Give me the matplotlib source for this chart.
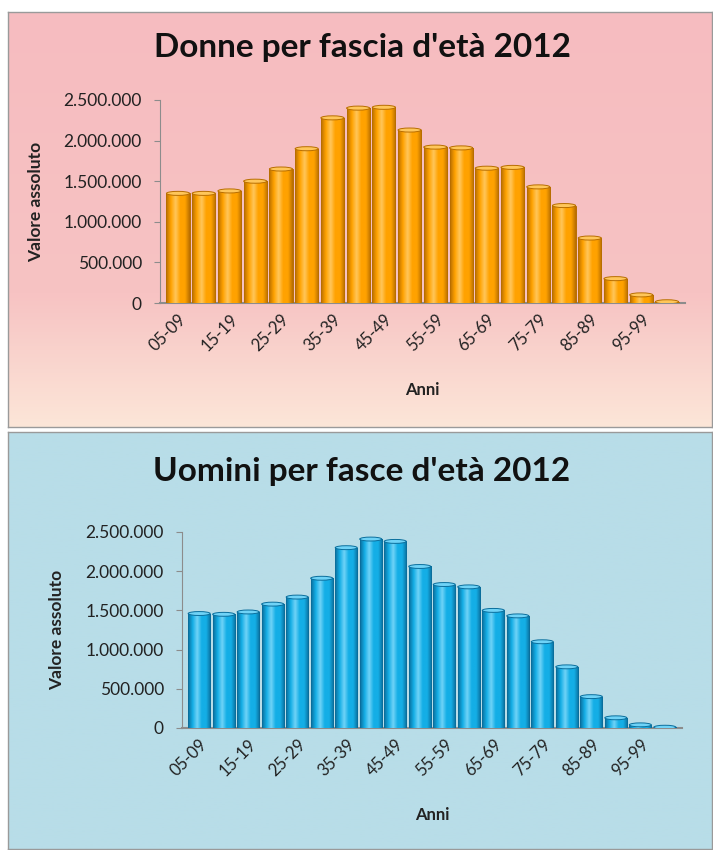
import numpy as np
import matplotlib.pyplot as plt
from matplotlib.patches import Rectangle, Ellipse
from matplotlib.colors import LinearSegmentedColormap

plt.rcParams['font.family'] = ['Lato', 'DejaVu Sans']

# age classes and population counts (2012)
fasce = ['05-09', '10-14', '15-19', '20-24', '25-29', '30-34', '35-39', '40-44',
         '45-49', '50-54', '55-59', '60-64', '65-69', '70-74', '75-79', '80-84',
         '85-89', '90-94', '95-99', '100+']
donne = [1350000, 1350000, 1380000, 1500000, 1650000, 1900000, 2280000, 2400000,
         2410000, 2130000, 1920000, 1910000, 1660000, 1670000, 1430000, 1200000,
         800000, 300000, 100000, 15000]
uomini = [1460000, 1450000, 1480000, 1580000, 1670000, 1910000, 2300000, 2410000,
          2380000, 2060000, 1830000, 1800000, 1500000, 1430000, 1100000, 780000,
          400000, 130000, 40000, 10000]
yticks = [0, 500000, 1000000, 1500000, 2000000, 2500000]

W, H = 713, 850
fig = plt.figure(figsize=(W / 100, H / 100), dpi=100)
fig.patch.set_facecolor('white')


def px_box(x0, y0, x1, y1):
    # pixel box (top-left origin) -> figure fraction [l, b, w, h]
    return [x0 / W, 1 - y1 / H, (x1 - x0) / W, (y1 - y0) / H]


def panel_bg(box, stops, colors):
    ax = fig.add_axes(px_box(*box), zorder=0)
    n = 200
    t = np.linspace(0, 1, n)
    rgb = np.array([[int(c[i:i + 2], 16) / 255 for i in (1, 3, 5)] for c in colors])
    grad = np.stack([np.interp(t, stops, rgb[:, k]) for k in range(3)], axis=1)
    ax.imshow(grad[:, None, :], aspect='auto', extent=(0, 1, 1, 0))
    ax.set_xlim(0, 1)
    ax.set_ylim(1, 0)
    ax.set_xticks([])
    ax.set_yticks([])
    for s in ax.spines.values():
        s.set_color('#9a9a9a')
        s.set_linewidth(1.0)


def fmt_it(v):
    return f'{v:,}'.replace(',', '.')


def cylinder_bars(ax, values, base, dark, light):
    cmap = LinearSegmentedColormap.from_list(
        'cyl', [dark, base, light, base, base, dark])
    grad = np.linspace(0, 1, 64)[None, :]
    w = 0.9
    for i, v in enumerate(values):
        r = Rectangle((i - w / 2, 0), w, v, facecolor=base, edgecolor='none', zorder=2)
        ax.add_patch(r)
        im = ax.imshow(grad, cmap=cmap, aspect='auto',
                       extent=(i - w / 2, i + w / 2, 0, v), zorder=3)
        im.set_clip_path(r)
        outline = Rectangle((i - w / 2, 0), w, v, facecolor='none', edgecolor=dark,
                            linewidth=0.7, zorder=3.5)
        ax.add_patch(outline)
        cap = Ellipse((i, v), w, 50000, facecolor=light, edgecolor=dark,
                      linewidth=0.7, zorder=4)
        ax.add_patch(cap)


def chart(box, values, title, title_y, base, dark, light, ylab_x, anni_y):
    ax = fig.add_axes(px_box(*box), zorder=2)
    ax.patch.set_alpha(0)
    cylinder_bars(ax, values, base, dark, light)
    ax.set_xlim(-0.7, len(values) - 0.3)
    ax.set_ylim(0, 2500000)
    ax.set_yticks(yticks)
    ax.set_yticklabels([fmt_it(v) for v in yticks], fontsize=12.5, color='#222222')
    pos = list(range(0, len(fasce), 2))
    ax.set_xticks(pos)
    ax.set_xticklabels([fasce[p] for p in pos], rotation=45, ha='right',
                       rotation_mode='anchor', fontsize=12, color='#222222')
    ax.tick_params(axis='x', length=0, pad=6)
    ax.tick_params(axis='y', length=4, color='#8c8c8c', direction='out', pad=9)
    for s in ('top', 'right'):
        ax.spines[s].set_visible(False)
    ax.spines['left'].set_color('#8c8c8c')
    ax.spines['bottom'].set_color('#8c8c8c')
    ax.spines['bottom'].set_linewidth(1.5)
    fig.text(ylab_x / W, 1 - (box[1] + box[3]) / 2 / H, 'Valore assoluto',
             rotation=90, ha='center', va='center', fontsize=12.5,
             fontweight='bold', color='#222222')
    fig.text((box[0] + box[2]) / 2 / W, 1 - anni_y / H, 'Anni', ha='center',
             va='center', fontsize=12, fontweight='bold', color='#222222')
    fig.text(362 / W, 1 - title_y / H, title, ha='center', va='center',
             fontsize=24, fontweight='bold', color='#111111')
    return ax


# top panel: pink fading into peach
panel_bg((8, 12, 712, 427), [0, 0.68, 1.0], ['#F6BCC0', '#F7C3C3', '#FCE6D8'])
# bottom panel: light blue
panel_bg((8, 432, 712, 849), [0, 1], ['#B8DDE8', '#B8DDE8'])

chart((160, 100, 685, 303), donne, "Donne per fascia d'età 2012", 48,
      '#FFA200', '#B86E00', '#FFC65A', 36, 390)
chart((182, 532, 682, 728), uomini, "Uomini per fasce d'età 2012", 472,
      '#14AEE6', '#0A6E9C', '#6FD3F7', 57, 815)

fig.savefig('out.png', dpi=100)
